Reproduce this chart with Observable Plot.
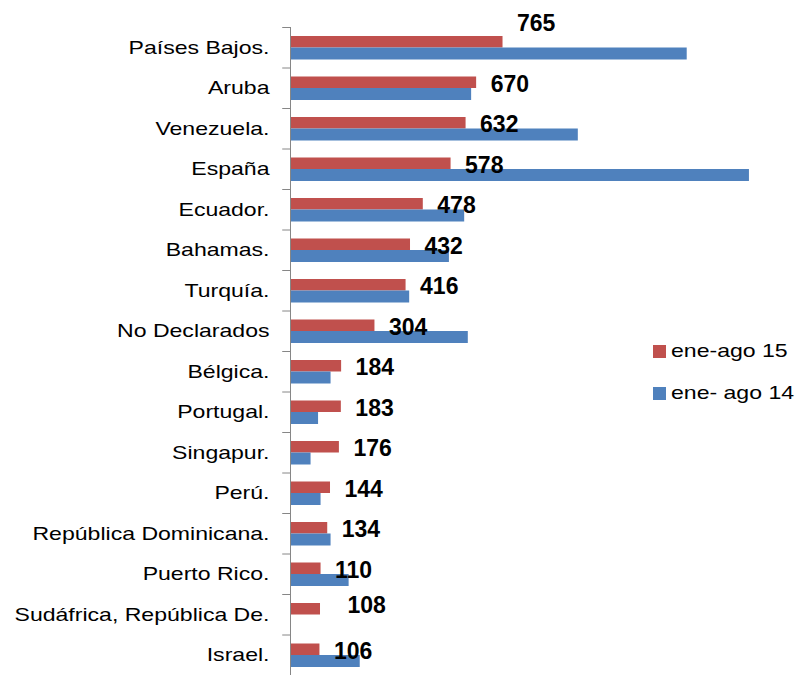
<!DOCTYPE html>
<html>
<head>
<meta charset="utf-8">
<script src="https://cdn.jsdelivr.net/npm/d3@7"></script>
<script src="https://cdn.jsdelivr.net/npm/@observablehq/plot@0.6"></script>
<style>
  html, body { margin: 0; padding: 0; background: #fff; }
  #wrap { position: relative; width: 797px; height: 675px; }
  #legend { position: absolute; left: 653px; top: 341px; font-family: "Liberation Sans", Arial, sans-serif; font-size: 18.6px; color: #000; }
  .item { display: flex; align-items: center; height: 20px; margin-bottom: 22px; }
  .sw { width: 13px; height: 13px; margin-right: 5px; flex: none; }
  .lab { display: inline-block; transform: scaleX(1.24); transform-origin: 0 50%; white-space: nowrap; }
</style>
</head>
<body>
<div id="wrap"></div>
<script>
const countries = [
  "Países Bajos.", "Aruba", "Venezuela.", "España", "Ecuador.", "Bahamas.", "Turquía.",
  "No Declarados", "Bélgica.", "Portugal.", "Singapur.", "Perú.", "República Dominicana.",
  "Puerto Rico.", "Sudáfrica, República De.", "Israel."
];
const eneAgo15 = [765, 670, 632, 578, 478, 432, 416, 304, 184, 183, 176, 144, 134, 110, 108, 106];
const eneAgo14 = [1428, 652, 1036, 1652, 627, 572, 429, 640, 146, 101, 74, 110, 146, 211, 0, 251];
const seriesNames = ["ene-ago 15", "ene- ago 14"];
const seriesColors = ["#C0504D", "#4F81BD"];

const rows = countries.map((c, i) => ({country: c, v15: eneAgo15[i], v14: eneAgo14[i]}));

const special1 = "Países Bajos.";
const special2 = "Sudáfrica, República De.";
const labelFont = {fontWeight: "bold", fontSize: 23, fontFamily: "Liberation Sans, Arial, sans-serif", fill: "#000", textAnchor: "start"};

const chart = Plot.plot({
  width: 797,
  height: 675,
  marginLeft: 290,
  marginRight: 0,
  marginTop: 27,
  marginBottom: 0,
  x: {domain: [0, 1825], axis: null},
  y: {type: "band", domain: countries, padding: 0, round: false, axis: null},
  marks: [
    Plot.barX(rows, {x: "v15", y: "country", fill: seriesColors[0], insetTop: 9, insetBottom: 20}),
    Plot.barX(rows, {x: "v14", y: "country", fill: seriesColors[1], insetTop: 20.5, insetBottom: 8}),
    Plot.ruleX([0], {stroke: "#868686", strokeWidth: 1}),
    Plot.ruleY(countries, {y: d => d, x1: -28, x2: 0, dy: -20.25, stroke: "#868686"}),
    Plot.text(countries, {y: d => d, x: 0, dx: -21, textAnchor: "end", fontSize: 18.6, fontFamily: "Liberation Sans, Arial, sans-serif", fill: "#000"}),
    Plot.text(rows.filter(d => d.country !== special1 && d.country !== special2),
      {x: "v15", y: "country", text: d => String(d.v15), dx: 14, dy: -4, ...labelFont}),
    Plot.text(rows.filter(d => d.country === special1),
      {x: "v15", y: "country", text: d => String(d.v15), dx: 14, dy: -24.5, ...labelFont}),
    Plot.text(rows.filter(d => d.country === special2),
      {x: "v15", y: "country", text: d => String(d.v15), dx: 27, dy: -9.5, ...labelFont})
  ]
});

// widen the category labels horizontally (the reference text is stretched)
const catSet = new Set(countries);
chart.querySelectorAll("text").forEach(el => {
  if (!catSet.has(el.textContent)) return;
  const x = parseFloat(el.getAttribute("x") || "0");
  const y = parseFloat(el.getAttribute("y") || "0");
  const t = el.getAttribute("transform") || "";
  el.setAttribute("transform", `${t} translate(${x},${y}) scale(1.24,1) translate(${-x},${-y})`);
});

const wrap = document.getElementById("wrap");
wrap.appendChild(chart);

const legend = document.createElement("div");
legend.id = "legend";
seriesNames.forEach((name, i) => {
  const item = document.createElement("div");
  item.className = "item";
  const sw = document.createElement("span");
  sw.className = "sw";
  sw.style.background = seriesColors[i];
  const lab = document.createElement("span");
  lab.className = "lab";
  lab.textContent = name;
  item.appendChild(sw);
  item.appendChild(lab);
  legend.appendChild(item);
});
wrap.appendChild(legend);
</script>
</body>
</html>
